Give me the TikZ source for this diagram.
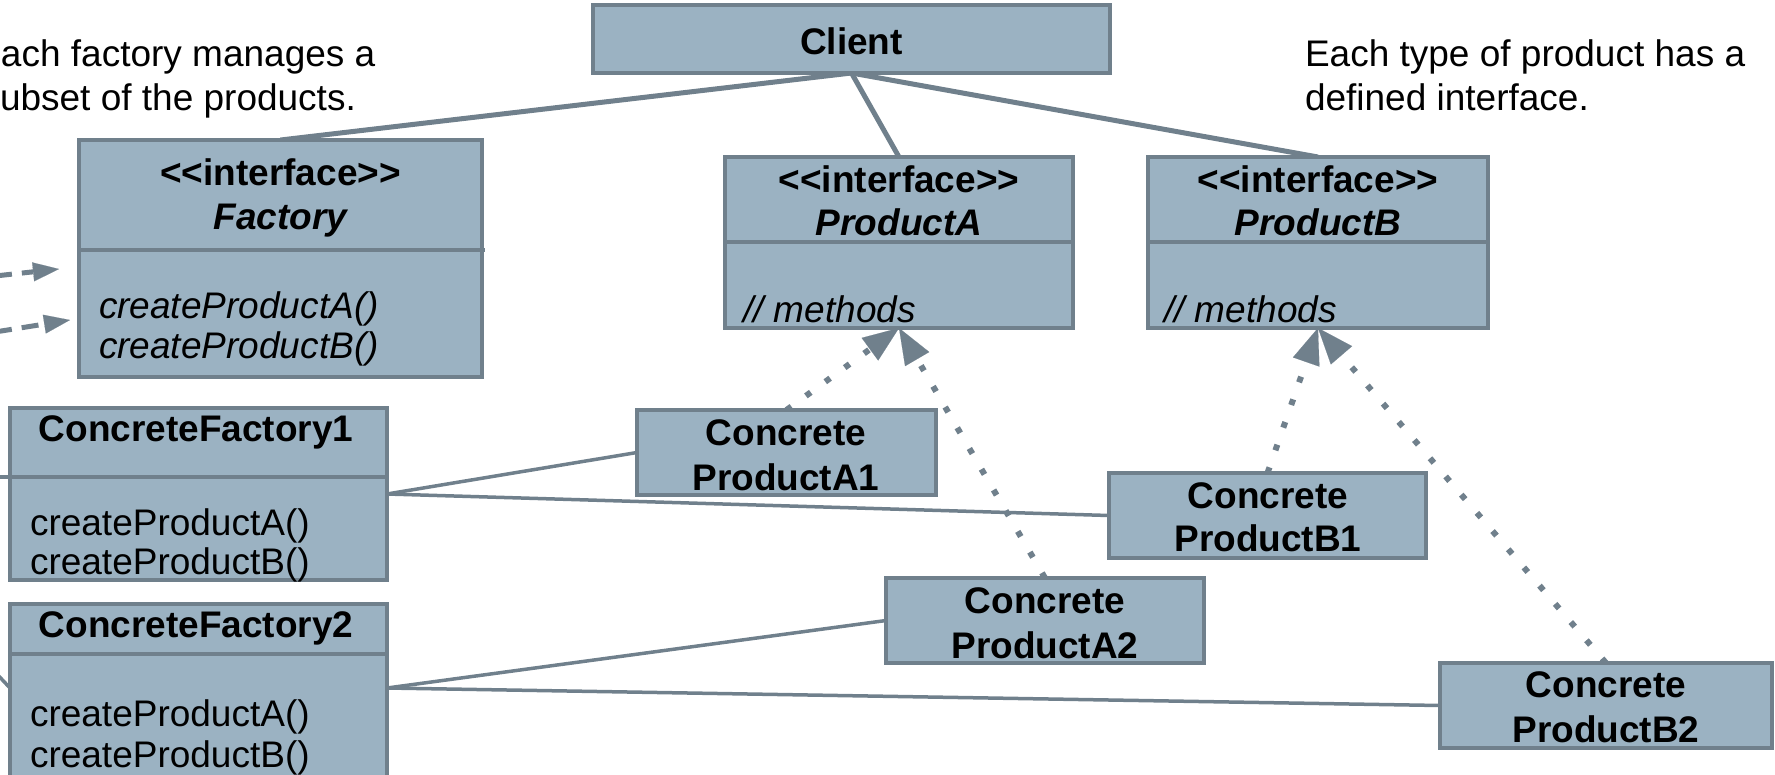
\documentclass[tikz,border=0pt]{standalone}
\usepackage{fontspec}
\newfontfamily\uifont{Liberation Sans}
\usetikzlibrary{arrows.meta,calc}
\definecolor{boxfill}{RGB}{155,178,194}
\definecolor{boxline}{RGB}{112,128,140}
\definecolor{conn}{RGB}{112,128,140}
\pgfdeclarelayer{background}
\pgfsetlayers{background,main}
\begin{document}
\begin{tikzpicture}[x=1pt,y=-1pt,
  box/.style={rectangle, draw=boxline, fill=boxfill, line width=4.5pt, inner sep=0pt, outer sep=0pt},
  sepline/.style={draw=boxline, line width=4.5pt},
  txt/.style={font=\uifont\fontsize{37}{44}\selectfont, inner sep=0pt, outer sep=0pt, text=black},
  btxt/.style={txt, font=\uifont\fontsize{37}{44}\selectfont\bfseries},
  bitxt/.style={txt, font=\uifont\fontsize{37}{44}\selectfont\bfseries\itshape},
  itxt/.style={txt, font=\uifont\fontsize{37}{44}\selectfont\itshape},
  clientline/.style={draw=conn, line width=5pt},
  assoc/.style={draw=conn, line width=3.5pt},
  dotarrow/.style={draw=conn, line width=6pt, dash pattern=on 6pt off 18pt,
    -{Triangle[length=36pt,width=28pt,line width=0.1pt]}},
  dasharrow/.style={draw=conn, line width=5pt, dash pattern=on 17pt off 10pt,
    -{Triangle[length=26pt,width=19pt,line width=0.1pt]}}
]
\useasboundingbox (0,0) rectangle (1775,774);
\clip (0,0) rectangle (1775,774);

% boxes
\node[box, minimum width=517pt, minimum height=68pt] (client) at (851.5,39) {};
\node[box, minimum width=403pt, minimum height=237pt] (factory) at (280.5,258.5) {};
\node[box, minimum width=348pt, minimum height=171pt] (prodA) at (899,242.5) {};
\node[box, minimum width=340pt, minimum height=171pt] (prodB) at (1318,242.5) {};
\node[box, minimum width=377pt, minimum height=172pt] (cf1) at (198.5,494) {};
\node[box, minimum width=377pt, minimum height=176pt] (cf2) at (198.5,692) {};
\node[box, minimum width=299pt, minimum height=85pt] (a1) at (786.5,452.5) {};
\node[box, minimum width=317pt, minimum height=85pt] (b1) at (1267.5,515.5) {};
\node[box, minimum width=318pt, minimum height=85pt] (a2) at (1045,620.5) {};
\node[box, minimum width=332pt, minimum height=85pt] (b2) at (1606,705.5) {};

% compartment separators
\draw[sepline] (factory.west |- 0,250) -- (485,250);
\draw[sepline] (prodA.west |- 0,242) -- (prodA.east |- 0,242);
\draw[sepline] (prodB.west |- 0,242) -- (prodB.east |- 0,242);
\draw[sepline] (cf1.west |- 0,477) -- (cf1.east |- 0,477);
\draw[sepline] (cf2.west |- 0,654) -- (cf2.east |- 0,654);

% connection points
\coordinate (cf2p) at ($(cf2.north east)+(0,84)$);
\coordinate (cf2l) at ($(cf2.north west)+(0,84)$);
\coordinate (cf1l) at ($(cf1.north west)+(0,69)$);
\coordinate (s1) at (-5,477);
\coordinate (s2) at (-5,672);
\coordinate (d1s) at (-5,276);
\coordinate (d1e) at (59,269);
\coordinate (d2s) at (-5,332);
\coordinate (d2e) at (70,320);

\begin{pgfonlayer}{background}
\draw[clientline] (client.south) -- (factory.north);
\draw[clientline] (client.south) -- (prodA.north);
\draw[clientline] (client.south) -- (prodB.north);
\draw[assoc] (cf1.east) -- (a1.west);
\draw[assoc] (cf1.east) -- (b1.west);
\draw[assoc] (cf2p) -- (a2.west);
\draw[assoc] (cf2p) -- (b2.west);
\draw[assoc] (s1) -- (cf1l);
\draw[assoc] (s2) -- (cf2l);
\draw[dotarrow] (a1.north) -- (prodA.south);
\draw[dotarrow] (a2.north) -- (prodA.south);
\draw[dotarrow] (b1.north) -- (prodB.south);
\draw[dotarrow] (b2.north) -- (prodB.south);
\draw[dasharrow] (d1s) -- (d1e);
\draw[dasharrow] (d2s) -- (d2e);
\end{pgfonlayer}

% texts
\node[txt, anchor=base west] (note1a) at (1,66) {ach factory manages a};
\node[txt, anchor=base west] (note1b) at (0,110) {ubset of the products.};
\node[txt, anchor=base west] (note2a) at (1305,66) {Each type of product has a};
\node[txt, anchor=base west] (note2b) at (1305,110) {defined interface.};

\node[btxt, anchor=base] (tclient) at (851.5,54) {Client};

\node[btxt, anchor=base] (tfac1) at (280.5,185) {<{}<interface>{}>};
\node[bitxt, anchor=base] (tfac2) at (280.5,229) {Factory};
\node[itxt, anchor=base west] (tfac3) at (99,318) {createProductA()};
\node[itxt, anchor=base west] (tfac4) at (99,358) {createProductB()};

\node[btxt, anchor=base] (tpa1) at (899,192) {<{}<interface>{}>};
\node[bitxt, anchor=base] (tpa2) at (899,235) {ProductA};
\node[itxt, anchor=base west] (tpa3) at (743,322) {// methods};

\node[btxt, anchor=base] (tpb1) at (1318,192) {<{}<interface>{}>};
\node[bitxt, anchor=base] (tpb2) at (1318,235) {ProductB};
\node[itxt, anchor=base west] (tpb3) at (1164,322) {// methods};

\node[btxt, anchor=base] (tcf1) at (196,441) {ConcreteFactory1};
\node[txt, anchor=base west] (tcf1a) at (30,535) {createProductA()};
\node[txt, anchor=base west] (tcf1b) at (30,574) {createProductB()};

\node[btxt, anchor=base] (tcf2) at (196,637) {ConcreteFactory2};
\node[txt, anchor=base west] (tcf2a) at (30,726) {createProductA()};
\node[txt, anchor=base west] (tcf2b) at (30,767) {createProductB()};

\node[btxt, anchor=base] (ta1a) at (786,445) {Concrete};
\node[btxt, anchor=base] (ta1b) at (786,490) {ProductA1};
\node[btxt, anchor=base] (tb1a) at (1268,508) {Concrete};
\node[btxt, anchor=base] (tb1b) at (1268,551) {ProductB1};
\node[btxt, anchor=base] (ta2a) at (1045,613) {Concrete};
\node[btxt, anchor=base] (ta2b) at (1045,658) {ProductA2};
\node[btxt, anchor=base] (tb2a) at (1606,697) {Concrete};
\node[btxt, anchor=base] (tb2b) at (1606,742) {ProductB2};
\end{tikzpicture}
\end{document}
